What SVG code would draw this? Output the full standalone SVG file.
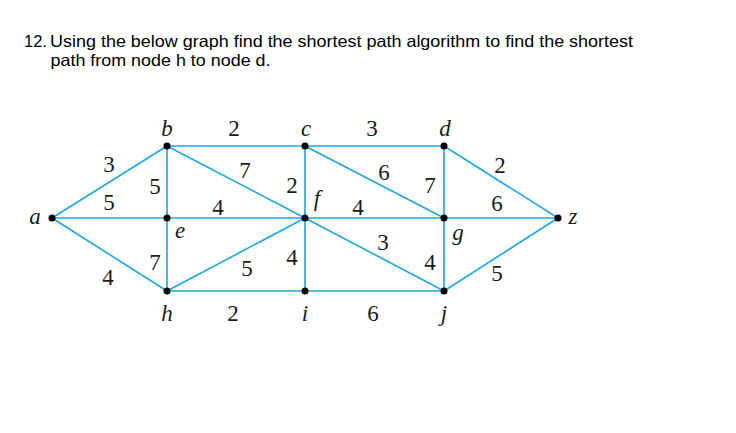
<svg xmlns="http://www.w3.org/2000/svg" width="736" height="433" viewBox="0 0 736 433">
<style>
.t{font-family:"Liberation Sans",Arial,sans-serif;font-size:16.5px;fill:#000}
.e{stroke:#1FA5DF;stroke-width:1.6;fill:none}
.d{fill:#000}
.n{font-family:"Liberation Serif","Times New Roman",serif;font-size:23px;fill:#1a1a1a;text-anchor:middle}
.l{font-family:"Liberation Serif","Times New Roman",serif;font-size:23px;font-style:italic;fill:#1a1a1a;text-anchor:middle}
</style>
<rect width="736" height="433" fill="#fff"/>
<g id="title">
<text class="t" x="24" y="47">12.</text>
<text class="t" x="50" y="47" textLength="583" lengthAdjust="spacingAndGlyphs">Using the below graph find the shortest path algorithm to find the shortest</text>
<text class="t" x="50.5" y="66" textLength="220" lengthAdjust="spacingAndGlyphs">path from node h to node d.</text>
</g>
<g id="connectors">
<line class="e" x1="52" y1="218" x2="167" y2="146"/>
<line class="e" x1="52" y1="218" x2="167" y2="218"/>
<line class="e" x1="52" y1="218" x2="167" y2="291"/>
<line class="e" x1="167" y1="146" x2="305" y2="146"/>
<line class="e" x1="167" y1="146" x2="167" y2="291"/>
<line class="e" x1="167" y1="146" x2="305" y2="218"/>
<line class="e" x1="167" y1="218" x2="305" y2="218"/>
<line class="e" x1="167" y1="291" x2="305" y2="218"/>
<line class="e" x1="167" y1="291" x2="305" y2="291"/>
<line class="e" x1="305" y1="146" x2="305" y2="291"/>
<line class="e" x1="305" y1="146" x2="444" y2="146"/>
<line class="e" x1="305" y1="146" x2="444" y2="218"/>
<line class="e" x1="305" y1="218" x2="444" y2="218"/>
<line class="e" x1="305" y1="218" x2="444" y2="291"/>
<line class="e" x1="305" y1="291" x2="444" y2="291"/>
<line class="e" x1="444" y1="146" x2="444" y2="291"/>
<line class="e" x1="444" y1="146" x2="558" y2="218"/>
<line class="e" x1="444" y1="218" x2="558" y2="218"/>
<line class="e" x1="444" y1="291" x2="558" y2="218"/>
</g>
<g id="weights">
<text class="n" x="109" y="172">3</text>
<text class="n" x="109" y="210">5</text>
<text class="n" x="108" y="285">4</text>
<text class="n" x="155" y="194">5</text>
<text class="n" x="155" y="270">7</text>
<text class="n" x="245" y="178">7</text>
<text class="n" x="218" y="215">4</text>
<text class="n" x="292" y="193">2</text>
<text class="n" x="292" y="265">4</text>
<text class="n" x="247" y="276">5</text>
<text class="n" x="233" y="321">2</text>
<text class="n" x="234" y="136">2</text>
<text class="n" x="372" y="136">3</text>
<text class="n" x="384" y="180">6</text>
<text class="n" x="430" y="193">7</text>
<text class="n" x="500" y="173">2</text>
<text class="n" x="358" y="215">4</text>
<text class="n" x="497" y="211">6</text>
<text class="n" x="383" y="250">3</text>
<text class="n" x="430" y="270">4</text>
<text class="n" x="497" y="281">5</text>
<text class="n" x="373" y="321">6</text>
</g>
<g id="node-a"><circle class="d" cx="52" cy="218" r="3.5"/><text class="l" x="35" y="224">a</text></g>
<g id="node-b"><circle class="d" cx="167" cy="146" r="3.5"/><text class="l" x="167" y="136">b</text></g>
<g id="node-c"><circle class="d" cx="305" cy="146" r="3.5"/><text class="l" x="306" y="136">c</text></g>
<g id="node-d"><circle class="d" cx="444" cy="146" r="3.5"/><text class="l" x="445" y="136">d</text></g>
<g id="node-e"><circle class="d" cx="167" cy="218" r="3.5"/><text class="l" x="180" y="238">e</text></g>
<g id="node-f"><circle class="d" cx="305" cy="218" r="3.5"/><text class="l" x="317" y="206">f</text></g>
<g id="node-g"><circle class="d" cx="444" cy="218" r="3.5"/><text class="l" x="458" y="240">g</text></g>
<g id="node-z"><circle class="d" cx="558" cy="218" r="3.5"/><text class="l" x="573" y="224">z</text></g>
<g id="node-h"><circle class="d" cx="167" cy="291" r="3.5"/><text class="l" x="167" y="321">h</text></g>
<g id="node-i"><circle class="d" cx="305" cy="291" r="3.5"/><text class="l" x="305" y="321">i</text></g>
<g id="node-j"><circle class="d" cx="444" cy="291" r="3.5"/><text class="l" x="444" y="321">j</text></g>
</svg>
